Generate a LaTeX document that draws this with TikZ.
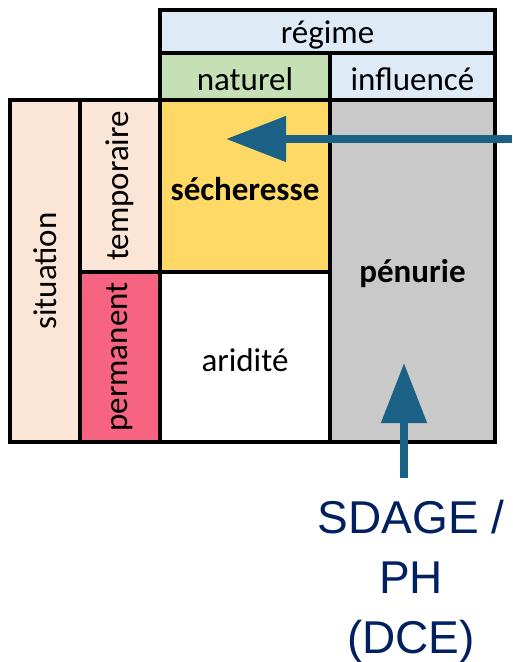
\documentclass[tikz,border=0pt]{standalone}
\usepackage{fontspec}
\setmainfont{Carlito}
\newfontfamily\arialfont{Liberation Sans}
\usetikzlibrary{arrows.meta,positioning}
\definecolor{regimeblue}{HTML}{DEEBF7}
\definecolor{naturelgreen}{HTML}{C5E0B4}
\definecolor{situpeach}{HTML}{FBE5D6}
\definecolor{permpink}{HTML}{F76482}
\definecolor{secgold}{HTML}{FFD966}
\definecolor{penugray}{HTML}{C9C9C9}
\definecolor{arrowblue}{HTML}{1B6185}
\definecolor{sdagenavy}{HTML}{002060}

\begin{document}
\begin{tikzpicture}[x=1pt,y=-1pt,
    cell/.style={draw=black,line width=3.5pt,inner sep=0pt,font=\fontsize{33}{39}\selectfont},
    flatcell/.style={cell,text height=29pt},
    bigarrow/.style={draw=arrowblue,line width=8pt,-{Triangle[length=60pt,width=44pt]}}]
    \useasboundingbox (0,0) rectangle (512,662);

    % regime header
    \node[flatcell,fill=regimeblue,minimum width=335pt,minimum height=43pt] (regime) at (327.5,31.5) {régime};
    \node[flatcell,fill=naturelgreen,minimum width=170pt,minimum height=47pt] (naturel) at (245,76.5) {naturel};
    \node[flatcell,fill=regimeblue,minimum width=165pt,minimum height=47pt] (influence) at (412.5,76.5) {influencé};

    % situation column
    \node[cell,fill=situpeach,rotate=90,minimum width=342pt,minimum height=70pt] (situation) at (45,271) {situation};
    \node[cell,fill=situpeach,rotate=90,minimum width=172pt,minimum height=80pt] (temporaire) at (120,186) {temporaire};
    \node[cell,fill=permpink,rotate=90,minimum width=170pt,minimum height=80pt] (permanent) at (120,357) {permanent};

    % main cells
    \node[flatcell,fill=secgold,minimum width=170pt,minimum height=172pt] (secheresse) at (245,186) {\bfseries sécheresse};
    \node[flatcell,fill=white,minimum width=170pt,minimum height=170pt] (aridite) at (245,357) {aridité};
    \node[flatcell,fill=penugray,minimum width=165pt,minimum height=342pt] (penurie) at (412.5,271) {\bfseries pénurie};

    % SDAGE label
    \node[font=\arialfont\fontsize{46}{60}\selectfont,text=sdagenavy,align=center,anchor=north,inner sep=0pt] (sdage) at (411,500) {SDAGE /\\PH\\(DCE)};

    % arrows
    \coordinate (hstart) at (512,139);
    \coordinate (htip) at (226,139);
    \coordinate (vstart) at (404,478);
    \coordinate (vtip) at (404,363);
    \draw[bigarrow] (hstart) -- (htip);
    \draw[bigarrow] (vstart) -- (vtip);
\end{tikzpicture}
\end{document}
